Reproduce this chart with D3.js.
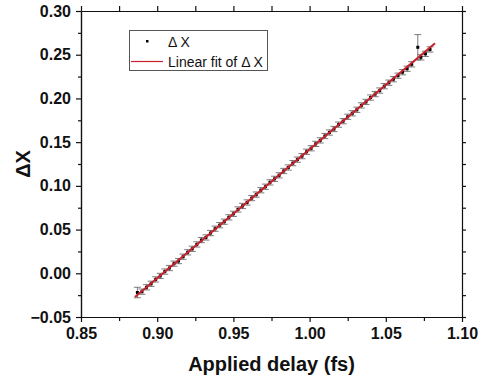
<!DOCTYPE html>
<html>
<head>
<meta charset="utf-8">
<script src="https://cdn.jsdelivr.net/npm/d3@7"></script>
<style>
  body { margin: 0; background: #fff; }
  svg { display: block; font-family: "Liberation Sans", Arial, sans-serif; }
  .axis path, .axis line { stroke: #111; stroke-width: 1.2; }
  .axis text { font-size: 16px; font-weight: bold; fill: #111; }
</style>
</head>
<body>
<div id="chart"></div>
<script>
// data
const delay = [0.887, 0.890, 0.893, 0.896, 0.899, 0.902, 0.905, 0.908, 0.911, 0.914,
               0.917, 0.920, 0.923, 0.926, 0.929, 0.932, 0.935, 0.938, 0.941, 0.944,
               0.947, 0.950, 0.953, 0.956, 0.959, 0.962, 0.965, 0.968, 0.971, 0.974,
               0.977, 0.980, 0.983, 0.986, 0.989, 0.992, 0.995, 0.998, 1.001, 1.004,
               1.007, 1.010, 1.013, 1.016, 1.019, 1.022, 1.025, 1.028, 1.031, 1.034,
               1.037, 1.040, 1.043, 1.046, 1.049, 1.052, 1.055, 1.058, 1.061, 1.064,
               1.067, 1.071, 1.073, 1.076, 1.079]
const deltaX = [-0.022, -0.021, -0.016, -0.012, -0.007, -0.003, 0.002, 0.006, 0.011, 0.014,
                0.019, 0.024, 0.028, 0.033, 0.038, 0.041, 0.046, 0.051, 0.055, 0.059,
                0.064, 0.068, 0.073, 0.077, 0.081, 0.086, 0.090, 0.095, 0.099, 0.104,
                0.108, 0.112, 0.117, 0.121, 0.126, 0.130, 0.134, 0.139, 0.143, 0.148,
                0.152, 0.157, 0.161, 0.165, 0.170, 0.174, 0.179, 0.183, 0.187, 0.192,
                0.196, 0.201, 0.205, 0.209, 0.214, 0.218, 0.222, 0.226, 0.230, 0.234,
                0.239, 0.2585, 0.247, 0.251, 0.256]
const deltaErr = [0.006, 0.003, 0.003, 0.003, 0.003, 0.003, 0.003, 0.003, 0.003, 0.003,
                  0.003, 0.003, 0.003, 0.003, 0.003, 0.003, 0.003, 0.003, 0.003, 0.003,
                  0.003, 0.003, 0.003, 0.003, 0.003, 0.003, 0.003, 0.003, 0.003, 0.003,
                  0.003, 0.003, 0.003, 0.003, 0.003, 0.003, 0.003, 0.003, 0.003, 0.003,
                  0.003, 0.003, 0.003, 0.003, 0.003, 0.003, 0.003, 0.003, 0.003, 0.003,
                  0.003, 0.003, 0.003, 0.003, 0.003, 0.003, 0.003, 0.003, 0.003, 0.003,
                  0.003, 0.0145, 0.003, 0.003, 0.003]
// linear fit endpoints
const fitX = [0.8854, 1.0823]
const fitY = [-0.027, 0.263]

const xTicks = [0.85, 0.90, 0.95, 1.00, 1.05, 1.10]
const xMinor = [0.875, 0.925, 0.975, 1.025, 1.075]
const yTicks = [-0.05, 0.00, 0.05, 0.10, 0.15, 0.20, 0.25, 0.30]
const yMinor = [-0.025, 0.025, 0.075, 0.125, 0.175, 0.225, 0.275]

const m = {left: 81, right: 17, top: 11, bottom: 60}
const W = 479, H = 377
const w = W - m.left - m.right
const h = H - m.top - m.bottom

const svg = d3.select('#chart').append('svg')
    .attr('width', W).attr('height', H)
const g = svg.append('g').attr('transform', `translate(${m.left}, ${m.top})`)

const x = d3.scaleLinear().domain([0.85, 1.10]).range([0, w])
const y = d3.scaleLinear().domain([-0.05, 0.30]).range([h, 0])

// Axes
g.append('g').attr('class', 'axis').attr('transform', `translate(0, ${h})`)
    .call(d3.axisBottom(x).tickValues(xTicks).tickFormat(d3.format('.2f')).tickSize(5).tickPadding(6).tickSizeOuter(0))
g.append('g').attr('class', 'axis').attr('transform', `translate(0, ${h})`)
    .call(d3.axisBottom(x).tickValues(xMinor).tickFormat('').tickSize(4).tickSizeOuter(0))
g.append('g').attr('class', 'axis')
    .call(d3.axisLeft(y).tickValues(yTicks).tickFormat(d3.format('.2f')).tickSize(5).tickPadding(5).tickSizeOuter(0))
g.append('g').attr('class', 'axis')
    .call(d3.axisLeft(y).tickValues(yMinor).tickFormat('').tickSize(3).tickSizeOuter(0))
g.append('g').attr('class', 'axis')
    .call(d3.axisTop(x).tickValues(xTicks.concat(xMinor)).tickFormat('').tickSize(5).tickSizeOuter(0))
g.append('g').attr('class', 'axis').attr('transform', `translate(${w}, 0)`)
    .call(d3.axisRight(y).tickValues(yTicks.concat(yMinor)).tickFormat('').tickSize(4).tickSizeOuter(0))

// Error bars
const pts = delay.map((d, i) => ({x: d, y: deltaX[i], e: deltaErr[i]}))
const eb = g.append('g').attr('stroke', '#444').attr('stroke-width', 0.7)
pts.forEach(p => {
    eb.append('line').attr('x1', x(p.x)).attr('x2', x(p.x))
        .attr('y1', y(p.y - p.e)).attr('y2', y(p.y + p.e))
    eb.append('line').attr('x1', x(p.x) - 3.5).attr('x2', x(p.x) + 3.5)
        .attr('y1', y(p.y + p.e)).attr('y2', y(p.y + p.e))
    eb.append('line').attr('x1', x(p.x) - 3.5).attr('x2', x(p.x) + 3.5)
        .attr('y1', y(p.y - p.e)).attr('y2', y(p.y - p.e))
})

// Points
g.selectAll('rect.pt').data(pts).enter().append('rect')
    .attr('class', 'pt')
    .attr('x', d => x(d.x) - 1.5).attr('y', d => y(d.y) - 1.5)
    .attr('width', 3).attr('height', 3).attr('fill', '#000')

// Fit line
g.append('line')
    .attr('x1', x(fitX[0])).attr('y1', y(fitY[0]))
    .attr('x2', x(fitX[1])).attr('y2', y(fitY[1]))
    .attr('stroke', '#c8202c').attr('stroke-width', 2)

// Legend
const lg = svg.append('g')
lg.append('rect').attr('x', 129.5).attr('y', 30.5).attr('width', 138).attr('height', 40)
    .attr('fill', '#fff').attr('stroke', '#555').attr('stroke-width', 1)
lg.append('rect').attr('x', 146).attr('y', 40).attr('width', 2.5).attr('height', 2.5).attr('fill', '#000')
lg.append('text').attr('x', 168).attr('y', 47).attr('font-size', 14).attr('fill', '#111').text('Δ X')
lg.append('line').attr('x1', 131).attr('x2', 163).attr('y1', 61.5).attr('y2', 61.5)
    .attr('stroke', '#c8202c').attr('stroke-width', 1.2)
lg.append('text').attr('x', 168).attr('y', 67).attr('font-size', 14).attr('fill', '#111').text('Linear fit of Δ X')

// Axis titles
svg.append('text').attr('x', m.left + w / 2).attr('y', 371)
    .attr('text-anchor', 'middle').attr('font-size', 20).attr('font-weight', 'bold')
    .attr('fill', '#111').text('Applied delay (fs)')
svg.append('text').attr('transform', `translate(30, ${m.top + h / 2}) rotate(-90)`)
    .attr('text-anchor', 'middle').attr('font-size', 20).attr('font-weight', 'bold')
    .attr('fill', '#111').text('ΔX')
</script>
</body>
</html>
